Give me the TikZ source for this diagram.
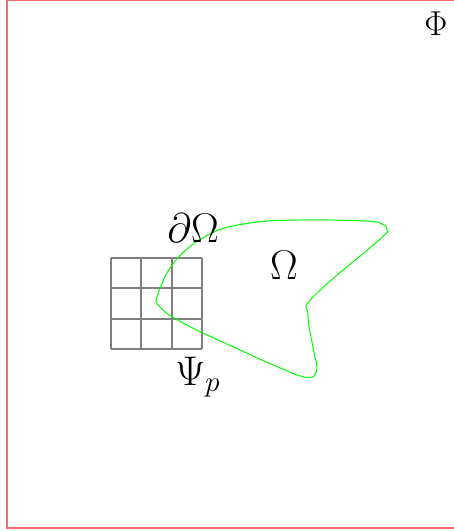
\documentclass[tikz,border=0pt]{standalone}
\begin{document}
\begin{tikzpicture}[x=0.5pt,y=-0.5pt,
  frame/.style={draw=red!60,line width=0.75pt},
  gridline/.style={draw=gray,line width=1pt},
  boundary/.style={draw=green,line width=0.5pt},
  lbl/.style={inner sep=0pt}]
\useasboundingbox (0,0) rectangle (454,531);
\clip (0,0) rectangle (454,531);
\fill[white] (0,0) rectangle (454,531);
\draw[frame] (7,0.5) rectangle (480,528);
\foreach \i in {0,1,2,3} {
  \draw[gridline] ({111+\i*30.33},258) -- ({111+\i*30.33},349);
  \draw[gridline] (111,{258+\i*30.33}) -- (202,{258+\i*30.33});
}
\draw[boundary] plot[smooth cycle,tension=0.7] coordinates {
  (158,294) (176,260) (210,234) (250,223) (300,220) (365,221) (382,224)
  (387,230) (379,240) (314,296) (308,315) (314,352) (317,366) (314,376) (304,377)
  (285,370) (240,350) (185,324) (160,307)};
\node[lbl] (phi) at (436,24) {\fontsize{19}{22}\selectfont$\Phi$};
\node[lbl] (dom) at (193,228) {\fontsize{21}{24}\selectfont$\partial\Omega$};
\node[lbl] (om) at (284,265) {\fontsize{21}{24}\selectfont$\Omega$};
\node[lbl] (psi) at (198,377) {\fontsize{21}{24}\selectfont$\Psi_p$};
\end{tikzpicture}
\end{document}
